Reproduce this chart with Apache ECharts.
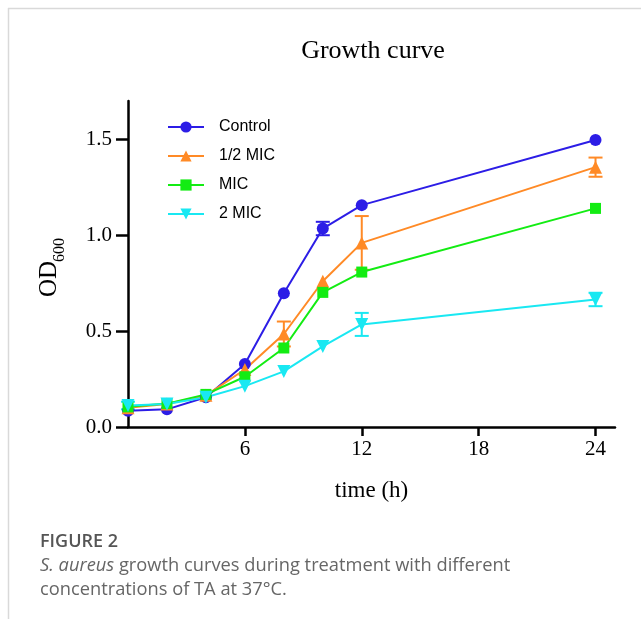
<!DOCTYPE html>
<html>
<head>
<meta charset="utf-8">
<script src="https://cdn.jsdelivr.net/npm/echarts@6/dist/echarts.min.js"></script>
<style>
html,body{margin:0;padding:0;background:#fff;}
#chart{width:641px;height:619px;position:absolute;left:0;top:0;}
</style>
</head>
<body>
<div id="chart"></div>
<script>
const times = [0, 2, 4, 6, 8, 10, 12, 24];
const seriesNames = ['Control', '1/2 MIC', 'MIC', '2 MIC'];
const controlValues = [0.085, 0.092, 0.155, 0.328, 0.698, 1.035, 1.157, 1.497];
const halfMicValues = [0.100, 0.120, 0.165, 0.300, 0.485, 0.760, 0.960, 1.355];
const micValues = [0.105, 0.122, 0.170, 0.262, 0.412, 0.702, 0.808, 1.140];
const twoMicValues = [0.112, 0.120, 0.155, 0.213, 0.290, 0.420, 0.535, 0.665];
const controlErr = [0, 0, 0, 0, 0, 0.035, 0, 0];
const halfMicErr = [0, 0, 0, 0, 0.065, 0, 0.14, 0.05];
const micErr = [0, 0, 0, 0, 0, 0, 0, 0];
const twoMicErr = [0.02, 0, 0, 0, 0, 0, 0.06, 0.035];
const xTicks = [6, 12, 18, 24];
const yTicks = [0, 0.5, 1.0, 1.5];

const colors = ['#2c1de6', '#ff8a26', '#13ec13', '#19e8f2'];
const symbols = ['circle', 'triangle', 'rect', 'triangle'];
const symbolRotates = [0, 0, 0, 180];
const symbolSizes = [12, 13, 11, 13];
const allValues = [controlValues, halfMicValues, micValues, twoMicValues];
const allErr = [controlErr, halfMicErr, micErr, twoMicErr];

const chart = echarts.init(document.getElementById('chart'), null, {renderer: 'canvas'});

const series = [];
seriesNames.forEach((name, i) => {
  series.push({
    name: name,
    type: 'line',
    data: times.map((t, k) => [t, allValues[i][k]]),
    symbol: symbols[i],
    symbolRotate: symbolRotates[i],
    symbolSize: symbolSizes[i],
    showAllSymbol: true,
    color: colors[i],
    lineStyle: {width: 2, color: colors[i]},
    itemStyle: {color: colors[i]},
    z: 3,
    animation: false
  });
});
seriesNames.forEach((name, i) => {
  series.push({
    name: name,
    type: 'custom',
    data: times.map((t, k) => [t, allValues[i][k] - allErr[i][k], allValues[i][k] + allErr[i][k]]),
    renderItem: function (params, api) {
      const x = api.value(0);
      if (api.value(2) - api.value(1) <= 0) return null;
      const lo = api.coord([x, api.value(1)]);
      const hi = api.coord([x, api.value(2)]);
      const hw = 7;
      const st = {stroke: colors[i], lineWidth: 2};
      return {
        type: 'group',
        children: [
          {type: 'line', shape: {x1: lo[0], y1: lo[1], x2: hi[0], y2: hi[1]}, style: st},
          {type: 'line', shape: {x1: lo[0] - hw, y1: lo[1], x2: lo[0] + hw, y2: lo[1]}, style: st},
          {type: 'line', shape: {x1: hi[0] - hw, y1: hi[1], x2: hi[0] + hw, y2: hi[1]}, style: st}
        ]
      };
    },
    z: 2,
    animation: false
  });
});

const option = {
  backgroundColor: '#fff',
  animation: false,
  legend: {
    data: seriesNames,
    orient: 'vertical',
    left: 162,
    top: 114,
    itemWidth: 36,
    itemHeight: 14,
    itemGap: 13,
    selectedMode: false,
    textStyle: {fontFamily: 'Liberation Sans', fontSize: 16, color: '#000', padding: [0, 0, 0, 10]}
  },
  grid: {left: 128, right: 26, top: 101, bottom: 192, containLabel: false},
  xAxis: {
    type: 'value',
    min: 0,
    max: 25,
    interval: 6,
    name: 'time (h)',
    nameLocation: 'middle',
    nameGap: 52,
    nameTextStyle: {fontFamily: 'Liberation Serif', fontSize: 23, color: '#000'},
    axisLine: {show: true, lineStyle: {color: '#000', width: 2.5}},
    axisTick: {show: true, length: 9, lineStyle: {color: '#000', width: 2.5}, customValues: xTicks},
    axisLabel: {fontFamily: 'Liberation Serif', fontSize: 21, color: '#000', margin: 12, customValues: xTicks},
    splitLine: {show: false}
  },
  yAxis: {
    type: 'value',
    min: 0,
    max: 1.7,
    interval: 0.5,
    axisLine: {show: true, lineStyle: {color: '#000', width: 2.5}},
    axisTick: {show: true, length: 12, lineStyle: {color: '#000', width: 2.5}, customValues: yTicks},
    axisLabel: {fontFamily: 'Liberation Serif', fontSize: 21, color: '#000', margin: 16, customValues: yTicks,
      formatter: v => Number(v).toFixed(1)},
    splitLine: {show: false}
  },
  graphic: [
    {type: 'line', shape: {x1: 8, y1: 8.5, x2: 641, y2: 8.5}, style: {stroke: '#d9d9d9', lineWidth: 1.5}},
    {type: 'line', shape: {x1: 8.5, y1: 8, x2: 8.5, y2: 619}, style: {stroke: '#d9d9d9', lineWidth: 1.5}},
    {type: 'text', x: 373, y: 51, style: {text: 'Growth curve', fontFamily: 'Liberation Serif', fontSize: 26, fill: '#000', textAlign: 'center', textVerticalAlign: 'middle'}},
    {
      type: 'group', x: 62, y: 297, rotation: Math.PI / 2,
      children: [
        {type: 'text', x: 0, y: 0, style: {text: 'OD', fontFamily: 'Liberation Serif', fontSize: 25, fill: '#000', textAlign: 'left', textVerticalAlign: 'bottom'}},
        {type: 'text', x: 35, y: 6, style: {text: '600', fontFamily: 'Liberation Serif', fontSize: 16, fill: '#000', textAlign: 'left', textVerticalAlign: 'bottom'}}
      ]
    },
    {type: 'text', x: 40, y: 542, style: {text: 'FIGURE 2', fontFamily: 'Open Sans', fontWeight: 600, fontSize: 18, fill: '#555', textVerticalAlign: 'middle'}},
    {type: 'text', x: 40, y: 554, style: {
      text: '{i|S. aureus} growth curves during treatment with different\nconcentrations of TA at 37°C.',
      fontFamily: 'Open Sans', fontSize: 18.3, fill: '#666', lineHeight: 24,
      rich: {i: {fontFamily: 'Open Sans', fontStyle: 'italic', fontSize: 18.3, fill: '#666'}}
    }}
  ],
  series: series
};
chart.setOption(option);
</script>
</body>
</html>
